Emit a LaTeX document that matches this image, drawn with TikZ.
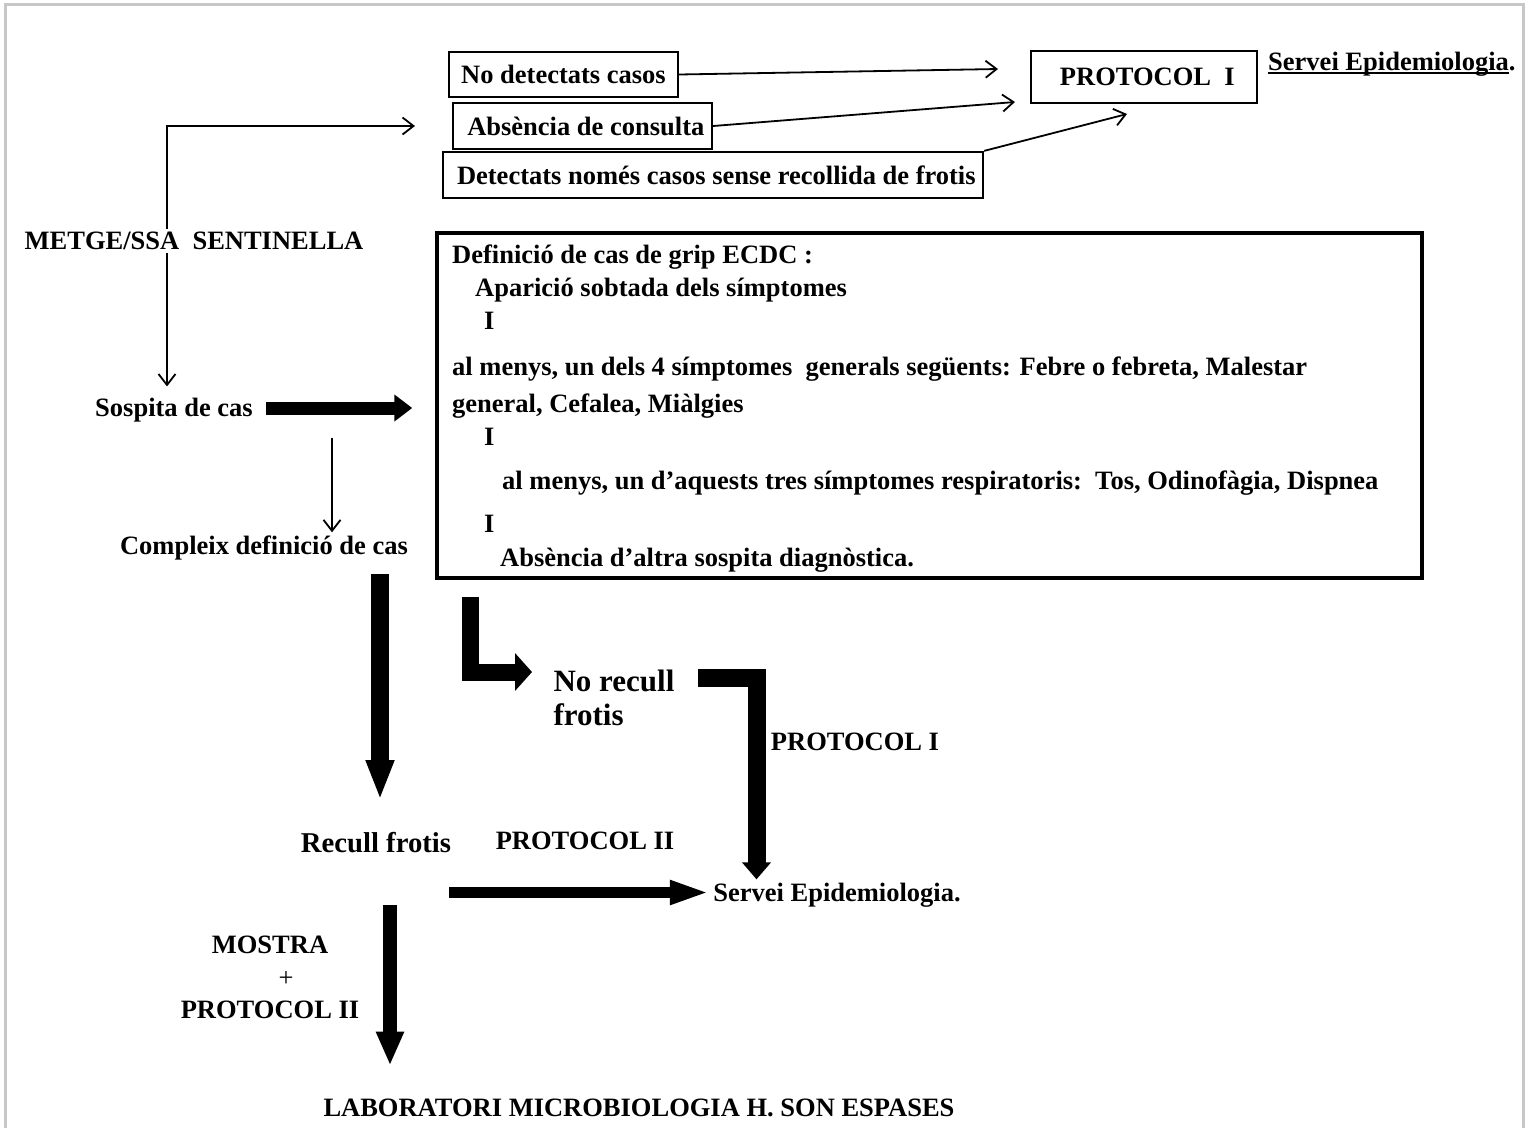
\documentclass[tikz,border=0pt]{standalone}
\usepackage{fontspec}
\setmainfont{Liberation Serif}
\usetikzlibrary{arrows.meta}
\newcommand\ulbox[1]{\setbox0\hbox{#1}\rlap{\rule[-4pt]{\wd0}{2.2pt}}\box0}
\begin{document}
\begin{tikzpicture}[x=1pt,y=-1pt,font=\fontsize{26.5}{32}\selectfont\bfseries]
       \tikzset{box/.style={draw,line width=2.2pt,inner sep=0pt},
                arr/.style={line width=1.8pt,-{Straight Barb[length=11pt,width=17pt]}},
                fat/.style args={#1/#2/#3}{line width=#1,-{Triangle[length=#2,width=#3]}},
                defline/.style={anchor=base west,inner sep=0pt}}
       \useasboundingbox (0,0) rectangle (1530,1128);
       \draw[black!22,line width=3pt] (5.5,1128) -- (5.5,4.5) -- (1523,4.5) -- (1523,1128);
       % top boxes
       \node[box,minimum width=229,minimum height=45] (nodet) at (563.5,74.5) {No detectats casos};
       \node[box,minimum width=259,minimum height=46] (absc) at (582.5,126) {\ Absència de consulta};
       \node[box,minimum width=540,minimum height=46] (detec) at (713,175) {\ Detectats només casos sense recollida de frotis};
       \node[box,minimum width=226,minimum height=52] (prot) at (1144,77) {\ PROTOCOL\ \ I};
       \node[anchor=base west,inner sep=0pt] (sepi) at (1268,70) {\ulbox{Servei Epidemiologia}.};
       \coordinate (ta) at (998,69);
       \coordinate (tb) at (1015,102);
       \coordinate (tc) at (1127,114);
       \draw[arr] (nodet.east) -- (ta);
       \draw[arr] (absc.east) -- (tb);
       \draw[arr] (detec.north east) -- (tc);
       % left column
       \node (metge) at (194,241) {METGE/SSA\ \ SENTINELLA};
       \node (sosp) at (174,410) {Sospita de cas};
       \node (comp) at (264,548) {Compleix definició de cas};
       \coordinate (vx) at (167,0);
       \coordinate (cx) at (332,0);
       \coordinate (tin) at (415,126);
       \draw[arr] (metge.north -| vx) |- (tin);
       \draw[arr,shorten >=8pt] (metge.south -| vx) -- (sosp.north -| vx);
       \draw[arr,shorten <=12pt] (sosp.south -| cx) -- (comp.north -| cx);
       % definition box
       \node[draw,line width=3.5pt,minimum width=985,minimum height=345,inner sep=0pt] (defbox) at (929.5,405.5) {};
       \node[defline] (d1) at (452,263) {Definició de cas de grip ECDC :};
       \node[defline] (d2) at (475,296) {Aparició sobtada dels símptomes};
       \node[defline] (d3) at (484,329) {I};
       \node[defline] (d4) at (452,375) {al menys, un dels 4 símptomes\ \ generals següents: Febre o febreta, Malestar};
       \node[defline] (d5) at (452,412) {general, Cefalea, Miàlgies};
       \node[defline] (d6) at (484,445) {I};
       \node[defline] (d7) at (502,489) {al menys, un d’aquests tres símptomes respiratoris:\ \ Tos, Odinofàgia, Dispnea};
       \node[defline] (d8) at (484,532) {I};
       \node[defline] (d9) at (500,566) {Absència d’altra sospita diagnòstica.};
       \draw[fat={13pt/18pt/26pt},shorten <=10pt,shorten >=23pt] (sosp.east |- 0,408) -- (defbox.west |- 0,408);
       % lower part
       \node (rec) at (376,843) {\fontsize{28.7}{34}\selectfont Recull frotis};
       \node (p2) at (585,841) {PROTOCOL II};
       \node[anchor=west,align=left,font=\fontsize{31}{34}\selectfont\bfseries] (nore) at (550,698) {No recull\\frotis};
       \node (p1) at (855,742) {PROTOCOL I};
       \node (sepb) at (837,895) {Servei Epidemiologia.};
       \node (mostra) at (270,945) {MOSTRA};
       \node[font=\fontsize{26.5}{32}\selectfont] (plus) at (286,979) {+};
       \node (p2b) at (270,1010) {PROTOCOL II};
       \node (lab) at (639,1108) {LABORATORI MICROBIOLOGIA H. SON ESPASES};
       \coordinate (fa) at (380,574);
       \coordinate (fb) at (380,800);
       \coordinate (la) at (470.5,597);
       \coordinate (lb) at (470.5,672);
       \coordinate (ra) at (698,677.5);
       \coordinate (rb) at (756.5,677.5);
       \coordinate (ha) at (449,892.5);
       \coordinate (va) at (390,905);
       \draw[fat={18pt/40pt/26pt}] (fa) -- (fb);
       \draw[fat={17pt/17pt/37pt},shorten >=18pt] (la) -- (lb) -- (nore.west |- lb);
       \draw[fat={18pt/17pt/28pt}] (ra) -- (rb) -- (sepb.north -| rb);
       \draw[fat={11pt/40pt/22pt}] (ha) -- (sepb.west |- ha);
       \draw[fat={14pt/34pt/26pt},shorten >=30pt] (va) -- (lab.north -| va);
\end{tikzpicture}
\end{document}
